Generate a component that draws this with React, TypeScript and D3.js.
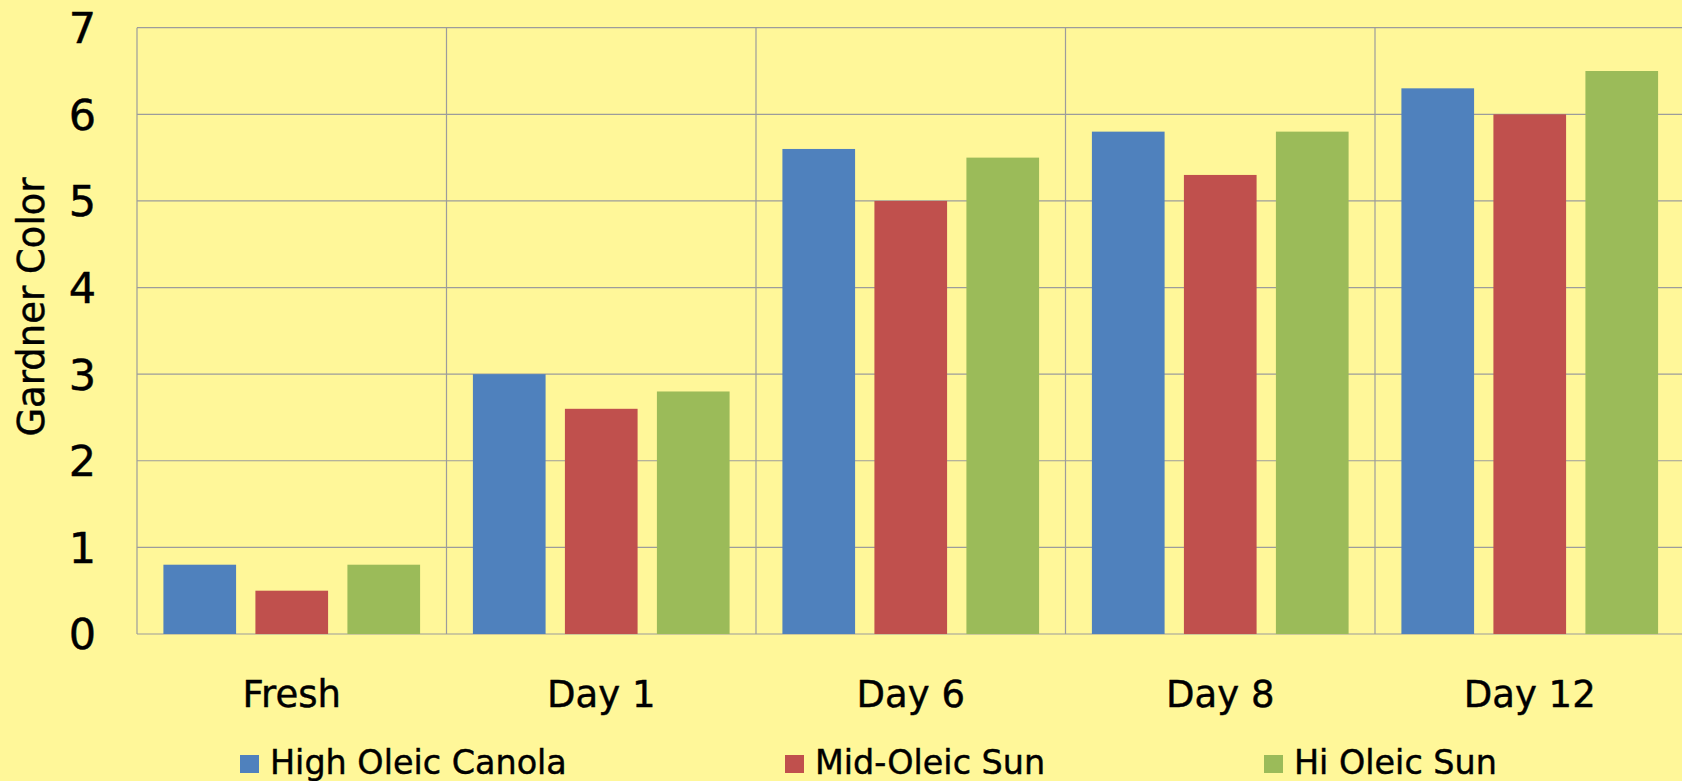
import React from "react";
import * as d3 from "d3";

const categories = ["Fresh", "Day 1", "Day 6", "Day 8", "Day 12"];
const seriesNames = ["High Oleic Canola", "Mid-Oleic Sun", "Hi Oleic Sun"];
const highOleicCanola = [0.8, 3.0, 5.6, 5.8, 6.3];
const midOleicSun = [0.5, 2.6, 5.0, 5.3, 6.0];
const hiOleicSun = [0.8, 2.8, 5.5, 5.8, 6.5];
const yTicks = [0, 1, 2, 3, 4, 5, 6, 7];
const yTitle = "Gardner Color";

const seriesValues = [highOleicCanola, midOleicSun, hiOleicSun];
const colors = ["#4F81BD", "#C0504D", "#9BBB59"];

const W = 1682;
const H = 781;
const left = 137;
const catW = 309.5;
const font = "'DejaVu Sans', Verdana, sans-serif";

export default function App() {
  const x = d3
    .scaleBand<string>()
    .domain(categories)
    .range([left, left + catW * categories.length])
    .padding(0);
  const xs = d3
    .scaleBand<string>()
    .domain(seriesNames)
    .range([0, x.bandwidth()])
    .paddingInner(0.21)
    .paddingOuter(0.287);
  const y = d3.scaleLinear().domain([0, 7]).range([634, 27.7]);
  const right = left + catW * categories.length;
  const grid = "#9C9C9C";
  const legendX = [240, 785, 1264];
  const textStroke = { stroke: "#000", strokeWidth: 0.45 };

  return (
    <div style={{ position: "fixed", left: 0, top: 0, width: W, height: H }}>
      <svg width={W} height={H} style={{ display: "block" }}>
        <rect x={0} y={0} width={W} height={H} fill="#FFF799" />
        {yTicks.map((t) => (
          <line
            key={"h" + t}
            x1={left}
            x2={right}
            y1={y(t)}
            y2={y(t)}
            stroke={grid}
            strokeWidth={1.2}
          />
        ))}
        {categories.map((c) => (
          <line
            key={"v" + c}
            x1={x(c)!}
            x2={x(c)!}
            y1={y(7)}
            y2={y(0)}
            stroke={grid}
            strokeWidth={1.2}
          />
        ))}
        {categories.map((c, ci) =>
          seriesNames.map((s, si) => {
            const v = seriesValues[si][ci];
            return (
              <rect
                key={c + s}
                x={x(c)! + xs(s)!}
                y={y(v)}
                width={xs.bandwidth()}
                height={y(0) - y(v)}
                fill={colors[si]}
              />
            );
          })
        )}
        {yTicks.map((t) => (
          <text
            key={"yt" + t}
            x={96}
            y={y(t)}
            dy="0.36em"
            textAnchor="end"
            fontFamily={font}
            fontSize={43}
            fill="#000"
            {...textStroke}
          >
            {t}
          </text>
        ))}
        <text
          transform={`translate(44, 307) rotate(-90)`}
          textAnchor="middle"
          fontFamily={font}
          fontSize={37}
          fill="#000"
          {...textStroke}
        >
          {yTitle}
        </text>
        {categories.map((c) => (
          <text
            key={"c" + c}
            x={x(c)! + x.bandwidth() / 2}
            y={707}
            textAnchor="middle"
            fontFamily={font}
            fontSize={37}
            fill="#000"
            {...textStroke}
          >
            {c}
          </text>
        ))}
        {seriesNames.map((s, i) => (
          <g key={"lg" + s} transform={`translate(${legendX[i]}, 0)`}>
            <rect x={0} y={755} width={19} height={18} fill={colors[i]} />
            <text
              x={30}
              y={774}
              fontFamily={font}
              fontSize={33.4}
              fill="#000"
              {...textStroke}
            >
              {s}
            </text>
          </g>
        ))}
      </svg>
    </div>
  );
}
